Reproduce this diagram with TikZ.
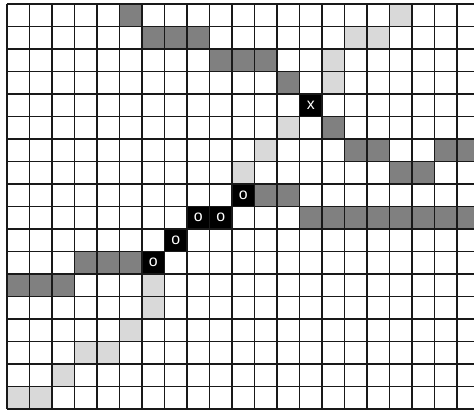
\documentclass[tikz,border=0pt]{standalone}
\usepackage{fontspec}
\setmainfont{Liberation Sans}
\usepackage{tikz}

\begin{document}
\begin{tikzpicture}[
    x=0.6cm, y=-0.6cm,
    darkcell/.style={fill=black!50},
    lightcell/.style={fill=black!15},
    stone/.style={rectangle, fill=black, text=white, minimum size=0.6cm, inner sep=0pt, anchor=center, font=\fontsize{12}{12}\selectfont},
    gridline/.style={draw=black!90, line width=0.85pt}
]
% Page size (grid runs off the right edge)
\useasboundingbox (-0.311,-0.178) rectangle (20.756,18.044);
\clip (-0.311,-0.178) rectangle (20.756,18.044);

% Dark cells
\foreach \c/\r in {5/0, 6/1, 7/1, 8/1, 9/2, 10/2, 11/2, 12/3, 14/5,
    15/6, 16/6, 19/6, 20/6, 17/7, 18/7, 11/8, 12/8,
    13/9, 14/9, 15/9, 16/9, 17/9, 18/9, 19/9, 20/9,
    3/11, 4/11, 5/11, 0/12, 1/12, 2/12}
  \fill[darkcell] (\c,\r) rectangle ++(1,1);

% Light cells
\foreach \c/\r in {17/0, 15/1, 16/1, 14/2, 14/3, 12/5, 11/6, 10/7,
    6/12, 6/13, 5/14, 3/15, 4/15, 2/16, 0/17, 1/17}
  \fill[lightcell] (\c,\r) rectangle ++(1,1);

% Stones
\node[stone] (x1) at (13.5,4.5) {x};
\node[stone] (o1) at (10.5,8.5) {o};
\node[stone] (o2) at (9.5,9.5) {o};
\node[stone] (o3) at (8.5,9.5) {o};
\node[stone] (o4) at (7.5,10.5) {o};
\node[stone] (o5) at (6.5,11.5) {o};

% Grid
\foreach \c in {0,...,21}
  \draw[gridline] (\c,0) -- (\c,18);
\foreach \r in {0,...,18}
  \draw[gridline] (0,\r) -- (21,\r);
\end{tikzpicture}
\end{document}
